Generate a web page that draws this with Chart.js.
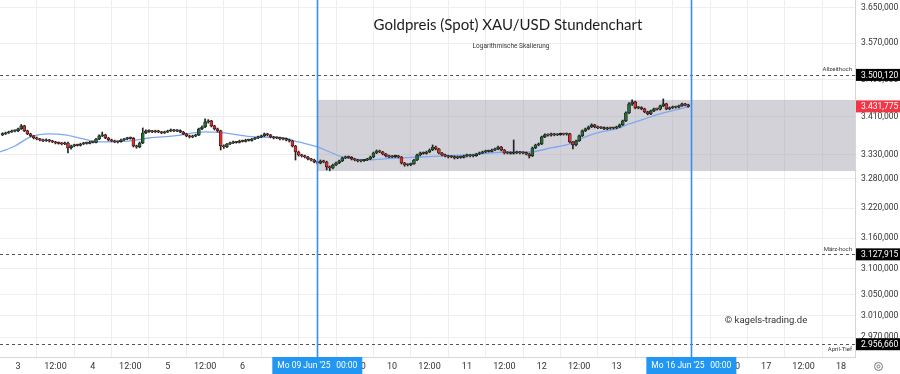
<!DOCTYPE html>
<html><head><meta charset="utf-8">
<script src="https://cdn.jsdelivr.net/npm/chart.js@4.4.1/dist/chart.umd.min.js"></script>
<style>html,body{margin:0;padding:0;background:#fff;overflow:hidden}</style>
</head><body><canvas id="c" width="900" height="374"></canvas>
<script>
// ---- data (hourly candles, hour 0 = Tue 03 Jun 2025 00:00, trading-time axis) ----
const firstHour = -5;
const opens = [3371.0,3373.0,3375.1,3377.2,3379.4,
3379.4,3383.6,3390.0,3379.4,3373.0,3368.8,3364.5,3362.4,3360.3,3358.2,
3360.3,3358.2,3356.1,3354.0,3353.2,3351.9,3354.0,3343.5,3347.7,3349.8,
3349.0,3351.9,3354.0,3353.1,3356.1,3355.3,3362.4,3368.8,3370.9,3364.5,
3360.3,3358.2,3356.1,3356.8,3360.3,3362.4,3364.5,3363.8,3347.7,3345.6,
3354.0,3375.1,3379.4,3378.6,3377.2,3379.4,3377.2,3375.1,3377.2,3379.4,
3381.5,3379.4,3380.1,3377.2,3373.0,3368.8,3366.7,3368.8,3370.9,3383.6,
3387.8,3398.5,3400.6,3390.0,3383.6,3379.4,3347.7,3345.6,3351.9,3354.0,
3356.1,3355.4,3358.2,3357.5,3360.3,3359.6,3362.4,3364.5,3366.7,3368.8,
3373.0,3370.9,3366.7,3364.5,3365.2,3362.4,3363.1,3360.3,3358.2,3347.7,
3335.1,3328.8,3326.8,3324.7,3320.5,3318.4,3314.3,3312.2,3316.4,3314.3,
3303.9,3301.8,3308.0,3312.2,3316.4,3322.6,3324.7,3324.0,3320.5,3318.4,
3316.4,3317.1,3318.4,3320.5,3324.7,3333.0,3337.2,3335.1,3330.9,3326.8,
3324.7,3325.4,3326.8,3324.7,3312.2,3308.0,3308.7,3310.1,3318.4,3328.8,
3333.0,3332.3,3335.1,3339.3,3345.6,3341.4,3333.0,3328.8,3326.8,3324.7,
3325.4,3322.6,3324.7,3324.0,3326.8,3328.8,3326.8,3327.5,3330.9,3333.0,
3335.1,3337.2,3336.5,3339.3,3341.4,3345.6,3339.3,3333.0,3333.7,3332.3,
3333.0,3335.1,3333.0,3333.7,3330.9,3326.8,3343.5,3349.8,3351.9,3366.7,
3370.9,3370.2,3373.0,3370.9,3371.6,3373.0,3372.3,3373.0,3356.1,3349.8,
3358.2,3368.8,3379.4,3383.6,3387.8,3392.1,3387.8,3385.7,3386.4,3383.6,
3385.7,3385.0,3385.7,3387.8,3392.1,3400.6,3417.7,3437.1,3441.4,3428.5,
3429.2,3426.3,3419.9,3415.6,3422.0,3426.3,3425.6,3432.8,3437.1,3426.3,
3428.5,3430.6,3429.9,3432.8,3437.1,3434.9];
const highs = [3375.5,3377.0,3379.0,3381.0,3381.5,
3385.5,3393.0,3391.5,3381.0,3374.5,3370.0,3366.5,3364.0,3362.0,3362.5,
3361.5,3359.5,3357.5,3356.0,3355.0,3356.0,3356.0,3349.5,3351.5,3351.5,
3353.5,3355.5,3355.8,3357.5,3358.0,3364.0,3371.0,3377.0,3372.5,3366.0,
3362.0,3360.0,3358.5,3362.0,3364.0,3366.0,3366.5,3365.5,3349.5,3356.0,
3385.7,3381.5,3381.5,3380.5,3381.0,3381.0,3378.5,3379.0,3381.0,3383.5,
3383.0,3382.0,3381.5,3378.5,3374.5,3370.5,3370.5,3372.5,3385.5,3390.0,
3404.9,3403.5,3402.0,3391.5,3385.5,3381.0,3350.0,3353.5,3356.0,3358.0,
3357.5,3360.0,3360.0,3362.0,3362.0,3364.0,3366.0,3368.5,3370.5,3375.0,
3374.5,3372.0,3368.0,3367.0,3366.5,3365.0,3364.5,3362.0,3359.5,3349.0,
3337.0,3330.5,3328.5,3326.0,3322.0,3320.0,3316.0,3318.5,3318.0,3316.0,
3306.0,3310.0,3314.0,3318.0,3324.5,3326.5,3326.5,3325.5,3322.0,3320.0,
3319.0,3320.0,3322.0,3326.5,3335.0,3339.5,3339.0,3336.5,3332.5,3328.5,
3327.5,3328.5,3328.0,3326.0,3313.5,3310.5,3312.0,3320.0,3330.5,3335.0,
3335.0,3337.0,3341.5,3349.8,3347.5,3343.0,3334.5,3330.5,3328.5,3327.5,
3327.0,3326.5,3326.5,3328.5,3330.5,3330.0,3329.5,3332.5,3335.0,3337.0,
3339.0,3339.0,3341.0,3343.5,3347.7,3347.0,3340.5,3335.5,3335.5,3360.3,
3337.0,3336.5,3335.5,3335.0,3332.5,3345.5,3351.5,3354.0,3368.5,3373.0,
3373.0,3375.0,3374.5,3373.5,3375.0,3374.5,3375.0,3374.5,3357.5,3360.0,
3370.5,3381.5,3385.5,3390.0,3394.5,3393.5,3389.5,3388.5,3388.0,3387.5,
3387.5,3387.5,3389.5,3394.0,3402.5,3420.0,3440.0,3445.7,3443.0,3431.5,
3431.0,3428.0,3421.5,3424.0,3428.0,3428.0,3434.5,3447.9,3438.5,3430.5,
3432.5,3432.5,3434.5,3439.0,3438.5,3436.5];
const lows = [3369.5,3371.8,3374.0,3376.0,3377.5,
3378.0,3382.5,3378.0,3371.5,3367.0,3362.5,3360.5,3358.5,3356.5,3357.0,
3356.0,3354.5,3352.0,3351.5,3350.0,3350.5,3333.0,3341.0,3346.0,3347.5,
3347.5,3350.5,3351.5,3352.0,3354.0,3354.0,3361.0,3367.5,3363.0,3358.5,
3356.5,3354.5,3354.0,3355.5,3359.0,3361.0,3362.0,3345.5,3343.0,3344.0,
3352.5,3373.5,3376.5,3375.5,3376.0,3375.5,3373.5,3374.0,3376.0,3378.0,
3378.0,3378.0,3375.5,3371.5,3367.0,3364.5,3365.0,3367.0,3369.5,3382.0,
3386.5,3396.0,3388.0,3381.5,3377.0,3339.3,3342.5,3344.0,3350.5,3352.5,
3353.5,3354.0,3356.0,3356.0,3358.0,3358.0,3361.0,3363.0,3365.0,3367.5,
3369.0,3365.0,3362.5,3363.0,3360.5,3360.5,3358.5,3356.0,3345.5,3318.4,
3326.5,3324.5,3322.5,3318.5,3316.5,3312.5,3310.0,3310.5,3312.5,3297.7,
3296.0,3300.0,3306.5,3311.0,3315.0,3321.0,3322.0,3318.5,3316.5,3314.5,
3314.5,3315.5,3317.0,3319.0,3323.0,3331.5,3333.5,3329.0,3325.0,3323.0,
3323.0,3323.5,3322.5,3310.0,3305.5,3306.0,3306.5,3309.0,3317.0,3327.0,
3330.5,3330.5,3333.5,3338.0,3339.5,3331.0,3327.0,3325.0,3322.5,3323.0,
3320.5,3321.0,3322.0,3322.5,3325.0,3325.0,3325.0,3326.0,3329.5,3331.5,
3333.5,3335.0,3335.0,3338.0,3340.0,3337.5,3331.0,3331.0,3330.5,3330.5,
3331.5,3331.0,3331.0,3329.0,3322.6,3325.5,3342.0,3348.0,3350.5,3365.0,
3368.5,3368.5,3369.0,3369.5,3370.0,3370.5,3370.5,3354.0,3341.4,3348.0,
3357.0,3367.5,3378.0,3382.0,3386.5,3386.0,3384.0,3384.0,3382.0,3382.0,
3383.0,3383.5,3384.0,3386.5,3391.0,3399.0,3416.0,3434.0,3426.5,3426.5,
3424.5,3418.0,3413.5,3414.0,3420.5,3423.5,3424.0,3431.0,3424.5,3424.5,
3427.0,3428.0,3428.5,3431.5,3433.0,3430.0];
const closes = [3373.0,3375.1,3377.2,3379.4,3379.4,
3383.6,3390.0,3379.4,3373.0,3368.8,3364.5,3362.4,3360.3,3358.2,3360.3,
3358.2,3356.1,3354.0,3353.2,3351.9,3354.0,3343.5,3347.7,3349.8,3349.0,
3351.9,3354.0,3353.1,3356.1,3355.3,3362.4,3368.8,3370.9,3364.5,3360.3,
3358.2,3356.1,3356.8,3360.3,3362.4,3364.5,3363.8,3347.7,3345.6,3354.0,
3375.1,3379.4,3378.6,3377.2,3379.4,3377.2,3375.1,3377.2,3379.4,3381.5,
3379.4,3380.1,3377.2,3373.0,3368.8,3366.7,3368.8,3370.9,3383.6,3387.8,
3398.5,3400.6,3390.0,3383.6,3379.4,3347.7,3345.6,3351.9,3354.0,3356.1,
3355.4,3358.2,3357.5,3360.3,3359.6,3362.4,3364.5,3366.7,3368.8,3373.0,
3370.9,3366.7,3364.5,3365.2,3362.4,3363.1,3360.3,3358.2,3347.7,3335.1,
3328.8,3326.8,3324.7,3320.5,3318.4,3314.3,3312.2,3316.4,3314.3,3303.9,
3301.8,3308.0,3312.2,3316.4,3322.6,3324.7,3324.0,3320.5,3318.4,3316.4,
3317.1,3318.4,3320.5,3324.7,3333.0,3337.2,3335.1,3330.9,3326.8,3324.7,
3325.4,3326.8,3324.7,3312.2,3308.0,3308.7,3310.1,3318.4,3328.8,3333.0,
3332.3,3335.1,3339.3,3345.6,3341.4,3333.0,3328.8,3326.8,3324.7,3325.4,
3322.6,3324.7,3324.0,3326.8,3328.8,3326.8,3327.5,3330.9,3333.0,3335.1,
3337.2,3336.5,3339.3,3341.4,3345.6,3339.3,3333.0,3333.7,3332.3,3333.0,
3335.1,3333.0,3333.7,3330.9,3326.8,3343.5,3349.8,3351.9,3366.7,3370.9,
3370.2,3373.0,3370.9,3371.6,3373.0,3372.3,3373.0,3356.1,3349.8,3358.2,
3368.8,3379.4,3383.6,3387.8,3392.1,3387.8,3385.7,3386.4,3383.6,3385.7,
3385.0,3385.7,3387.8,3392.1,3400.6,3417.7,3437.1,3441.4,3428.5,3429.2,
3426.3,3419.9,3415.6,3422.0,3426.3,3425.6,3432.8,3437.1,3426.3,3428.5,
3430.6,3429.9,3432.8,3437.1,3434.9,3431.775];
// moving average
const maHours  = [-5.8,-1,4,10,15,21,26,36,42,50,60,66,76,85,90,96,100,104,112,121,129,137,144,151,159,164,171,177,182,187,192,196,201,206,211,215];
const maValues = [3335.1,3347.7,3366.7,3373.0,3370.9,3362.4,3356.1,3358.2,3364.5,3368.8,3377.2,3375.1,3366.7,3364.5,3356.1,3345.6,3335.1,3324.7,3318.4,3322.6,3324.7,3326.8,3328.8,3333.0,3335.1,3335.1,3343.5,3351.9,3366.7,3377.2,3383.6,3394.2,3404.9,3415.6,3424.2,3430.6];
// axes (labels under the two date markers are hidden in the reference)
const tickHours  = [0,12,24,36,48,60,72,84,96,108,120,132,144,156,168,180,192,204,216,228,240,252,264];
const tickLabels = ['3','12:00','4','12:00','5','12:00','6','','','12:00','10','12:00','11','12:00','12','12:00','13','','','12:00','17','12:00','18'];
const yTicks = [2970,3010,3050,3100,3160,3220,3280,3330,3410,3490,3570,3650];
// annotations
const levelValues = [3500.12, 3127.915, 2956.66];
const levelNames  = ['Allzeithoch','März-hoch','April-Tief'];
const lastPrice = 3431.775;
const markerHours  = [96, 216];
const markerLabels = ["Mo 09 Jun '25", "Mo 16 Jun '25"];
const markerTimes  = ['00:00', '00:00'];
const rangeStart = 96, rangeHigh = 3445.7, rangeLow = 3295.6;

const FONT = 'Roboto, "Liberation Sans", sans-serif';
function de(v){ const s=v.toFixed(3).split('.'); return s[0].replace(/\B(?=(\d{3})+(?!\d))/g,'.')+','+s[1]; }

const hrs = opens.map((_,i)=>firstHour+i);
const up = closes.map((c,i)=>c>=opens[i]);

const overlay = {
  id:'overlay',
  beforeDatasetsDraw(chart){
    const {ctx, chartArea:a, scales:{x,y}} = chart;
    const x0 = Math.round(x.getPixelForValue(rangeStart));
    const yt = y.getPixelForValue(rangeHigh), yb = y.getPixelForValue(rangeLow);
    ctx.save(); ctx.fillStyle='rgba(150,148,165,0.42)';
    ctx.fillRect(x0, yt, a.right-x0, yb-yt); ctx.restore();
  },
  afterDatasetsDraw(chart){
    const {ctx, chartArea:a, scales:{x,y}} = chart;
    ctx.save();
    ctx.strokeStyle='#555'; ctx.lineWidth=1; ctx.setLineDash([3,3]);
    levelValues.forEach(v=>{ const py=Math.round(y.getPixelForValue(v))+0.5; ctx.beginPath(); ctx.moveTo(a.left,py); ctx.lineTo(a.right,py); ctx.stroke(); });
    ctx.setLineDash([]);
    ctx.font='6px '+FONT; ctx.fillStyle='#333'; ctx.textAlign='right'; ctx.textBaseline='middle';
    levelValues.forEach((v,i)=>{ const py=y.getPixelForValue(v); ctx.fillText(levelNames[i], a.right-3, i===2? py+5 : py-5); });
    ctx.fillStyle='#3a8cf0';
    markerHours.forEach(h=>{ const px=Math.round(x.getPixelForValue(h)); ctx.fillRect(px-0.3, a.top, 1.6, a.bottom-a.top); });
    ctx.font='9.5px '+FONT; ctx.fillStyle='#333'; ctx.textAlign='center';
    ctx.fillText('© kagels-trading.de', 766, 321);
    ctx.restore();
  },
  afterDraw(chart){
    const {ctx, chartArea:a, scales:{x,y}} = chart;
    ctx.save();
    ctx.font='8.5px '+FONT; ctx.textBaseline='middle'; ctx.textAlign='left';
    levelValues.forEach(v=>{ const py=y.getPixelForValue(v); ctx.fillStyle='#000'; ctx.fillRect(a.right+1, py-6, 45, 12); ctx.fillStyle='#fff'; ctx.fillText(de(v), a.right+6, py+0.5); });
    const lp=y.getPixelForValue(lastPrice); ctx.fillStyle='#f23645'; ctx.fillRect(a.right+1, lp-6, 45, 12); ctx.fillStyle='#fff'; ctx.fillText(de(lastPrice), a.right+6, lp+0.5);
    ctx.font='8.5px '+FONT;
    markerHours.forEach((h,i)=>{ const px=x.getPixelForValue(h); ctx.fillStyle='#2196f3'; ctx.fillRect(px-45, a.bottom, 90, 17);
      ctx.fillStyle='#fff'; ctx.textAlign='left'; ctx.fillText(markerLabels[i], px-40, a.bottom+9);
      ctx.textAlign='right'; ctx.fillText(markerTimes[i], px+40, a.bottom+9); });
    // title
    ctx.textAlign='center';
    ctx.fillStyle='#1c1c1c'; ctx.font='15px Lato, '+FONT; ctx.fillText('Goldpreis (Spot) XAU/USD Stundenchart', 508, 25);
    ctx.fillStyle='#333'; ctx.font='6.5px '+FONT; ctx.fillText('Logarithmische Skalierung', 511, 46);
    // settings icon
    ctx.strokeStyle='#777'; ctx.lineWidth=1; ctx.beginPath(); ctx.arc(878.5,366.5,4,0,Math.PI*2); ctx.stroke();
    ctx.beginPath(); ctx.arc(878.5,366.5,1.5,0,Math.PI*2); ctx.stroke();
    ctx.restore();
  }
};

new Chart(document.getElementById('c'), {
  type:'bar',
  data:{ datasets:[
    { type:'bar', label:'body', data: hrs.map((h,i)=>({x:h, y:[opens[i], closes[i]]})),
      backgroundColor: up.map(u=>u?'#237036':'#e2302d'), borderColor:'#161616', borderWidth:0.7,
      borderSkipped:false, barThickness:3, minBarLength:1.2, grouped:false, order:1 },
    { type:'bar', label:'wick', data: hrs.map((h,i)=>({x:h, y:[lows[i], highs[i]]})),
      backgroundColor:'#222', borderWidth:0, barThickness:1, grouped:false, order:2 },
    { type:'line', label:'MA', data: maHours.map((h,i)=>({x:h, y:maValues[i]})),
      borderColor:'#7ea8f4', borderWidth:1.3, pointRadius:0, tension:0.4, cubicInterpolationMode:'monotone', order:3 }
  ]},
  options:{
    responsive:false, animation:false, devicePixelRatio:1,
    layout:{padding:0},
    plugins:{legend:{display:false}, tooltip:{enabled:false}},
    scales:{
      x:{ type:'linear', min:-5.8, max:268.5, offset:false,
        afterBuildTicks:s=>{ s.ticks = tickHours.map(v=>({value:v})); },
        afterFit:s=>{ s.height=17; s.paddingLeft=0; s.paddingRight=0; },
        ticks:{ autoSkip:false, maxRotation:0, padding:4, color:'#333', font:{family:FONT, size:9},
          callback:(v)=>{ const k=tickHours.indexOf(v); return k>=0?tickLabels[k]:''; } },
        grid:{ color:'#eeeeee', drawTicks:false }, border:{color:'#d6d6d6'} },
      y:{ type:'logarithmic', position:'right', min:2933.1, max:3668.3,
        afterBuildTicks:s=>{ s.ticks = yTicks.map(v=>({value:v})); },
        afterFit:s=>{ s.width=45; s.paddingTop=0; s.paddingBottom=0; },
        ticks:{ autoSkip:false, padding:6, color:'#333', font:{family:FONT, size:8.5}, callback:(v)=>de(v) },
        grid:{ color:'#eeeeee', drawTicks:false }, border:{color:'#d6d6d6'} }
    }
  },
  plugins:[overlay]
});
</script></body></html>
